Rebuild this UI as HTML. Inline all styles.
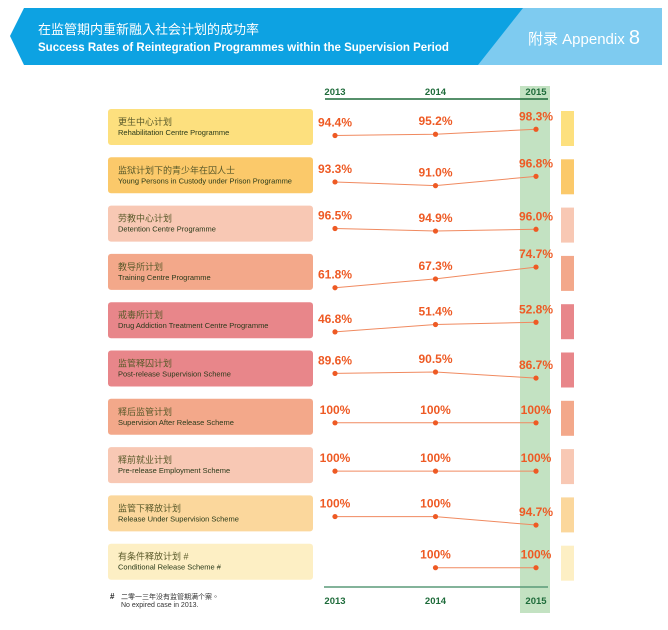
<!DOCTYPE html>
<html><head><meta charset="utf-8">
<style>
body{margin:0;background:#fff;width:668px;height:630px;overflow:hidden;position:relative;font-family:"Liberation Sans","Noto Sans CJK TC",sans-serif}
svg{position:absolute;left:0;top:0}
.val{font-family:"Liberation Sans Narrow","Liberation Sans",sans-serif;font-weight:bold;fill:#ee5a24;font-size:12px}
.zh{font-size:9px;fill:#5a5a2a}
.en{font-size:7.5px;fill:#2a3a1a}
.yr{font-size:9.5px;font-weight:bold;fill:#1e6b3a}
</style></head><body>
<svg id="c" width="668" height="630">
<polygon points="520,8 662,8 662,65 476,65" fill="#7ecbf0"/>
<polygon points="10,36 24,8 523,8 478,65 24,65" fill="#0da2e2"/>
<text x="38" y="34" font-size="13" fill="#fff" font-family="'Liberation Sans','Noto Sans CJK TC',sans-serif">在监管期内重新融入社会计划的成功率</text>
<text x="38" y="51" font-size="11.5" font-weight="bold" fill="#fff">Success Rates of Reintegration Programmes within the Supervision Period</text>
<text x="528" y="44" font-size="15" fill="#fff" font-family="'Liberation Sans','Noto Sans CJK TC',sans-serif">附录 Appendix <tspan font-size="20">8</tspan></text>
<rect x="520" y="86" width="30" height="527" fill="#c3e2c2"/>
<line x1="325" y1="99" x2="548" y2="99" stroke="#1e6b3a" stroke-width="1.5"/>
<line x1="324" y1="587" x2="548" y2="587" stroke="#5a9a78" stroke-width="1.5"/>
<g id="rows"></g>
<text x="110" y="599" font-size="8" font-weight="bold" fill="#222">#</text>
<text x="121" y="599" font-size="7" fill="#333" font-family="'Liberation Sans','Noto Sans CJK TC',sans-serif">二零一三年没有监管期满个案。</text>
<text x="121" y="607" font-size="7" fill="#333">No expired case in 2013.</text>
</svg>
<script>
const years=["2013","2014","2015"];
const namesZh=["更生中心计划","监狱计划下的青少年在囚人士","劳教中心计划","教导所计划","戒毒所计划","监管释囚计划","释后监管计划","释前就业计划","监管下释放计划","有条件释放计划  #"];
const namesEn=["Rehabilitation Centre Programme","Young Persons in Custody under Prison Programme","Detention Centre Programme","Training Centre Programme","Drug Addiction Treatment Centre Programme","Post-release Supervision Scheme","Supervision After Release Scheme","Pre-release Employment Scheme","Release Under Supervision Scheme","Conditional Release Scheme  #"];
const v2013=[94.4,93.3,96.5,61.8,46.8,89.6,100,100,100,null];
const v2014=[95.2,91.0,94.9,67.3,51.4,90.5,100,100,100,100];
const v2015=[98.3,96.8,96.0,74.7,52.8,86.7,100,100,94.7,100];
const colors=["#fde07e","#fbc96a","#f8c8b4","#f3a88a","#e8868a","#e8868a","#f3a88a","#f8c8b4","#fbd79c","#fdefc4"];
const NS="http://www.w3.org/2000/svg";
const svg=document.getElementById('c'),g=document.getElementById('rows');
function el(t,a,p){const e=document.createElementNS(NS,t);for(const k in a)e.setAttribute(k,a[k]);(p||g).appendChild(e);return e;}
const xYear=i=>335+i*100.5;
const rowTop=i=>109+i*48.3;
years.forEach((y,i)=>{
 [[97,'top'],[604,'bottom']].forEach(([yy,p])=>{
  const t=el('text',{x:xYear(i),y:yy-(p==='top'?2:0),'text-anchor':'middle',class:'yr'});t.textContent=y;
  
  
 });
});
namesZh.forEach((nz,r)=>{
 const top=rowTop(r);
 const b=el('rect',{x:108,y:top,width:205,height:36,rx:3,fill:colors[r]});
 
 
 const s=el('rect',{x:561,y:top+2,width:13,height:35,fill:colors[r]});
 
 
 const z=el('text',{x:118,y:top+16,class:'zh'});z.textContent=nz;
 
 
 const e=el('text',{x:118,y:top+26,class:'en'});e.textContent=namesEn[r];
 
 
 const vals=[v2013[r],v2014[r],v2015[r]];
 const nn=vals.filter(v=>v!=null);const mean=nn.reduce((a,b)=>a+b,0)/nn.length;
 const yv=v=>top+24-(v-mean)*1.6;
 const pts=[];
 vals.forEach((v,i)=>{if(v!=null)pts.push([xYear(i),yv(v),v]);});
 const pl=el('polyline',{points:pts.map(p=>p[0]+','+p[1]).join(' '),fill:'none',stroke:'#f08a60','stroke-width':1});
 
 
 pts.forEach(p=>{
  const c=el('circle',{cx:p[0],cy:p[1],r:2.6,fill:'#ee5a24'});
  
  
  const t=el('text',{x:p[0],y:p[1]-9,'text-anchor':'middle',class:'val'});
  t.textContent=(p[2]===100?'100':p[2].toFixed(1))+'%';
  
  
 });
});
</script>
</body></html>
